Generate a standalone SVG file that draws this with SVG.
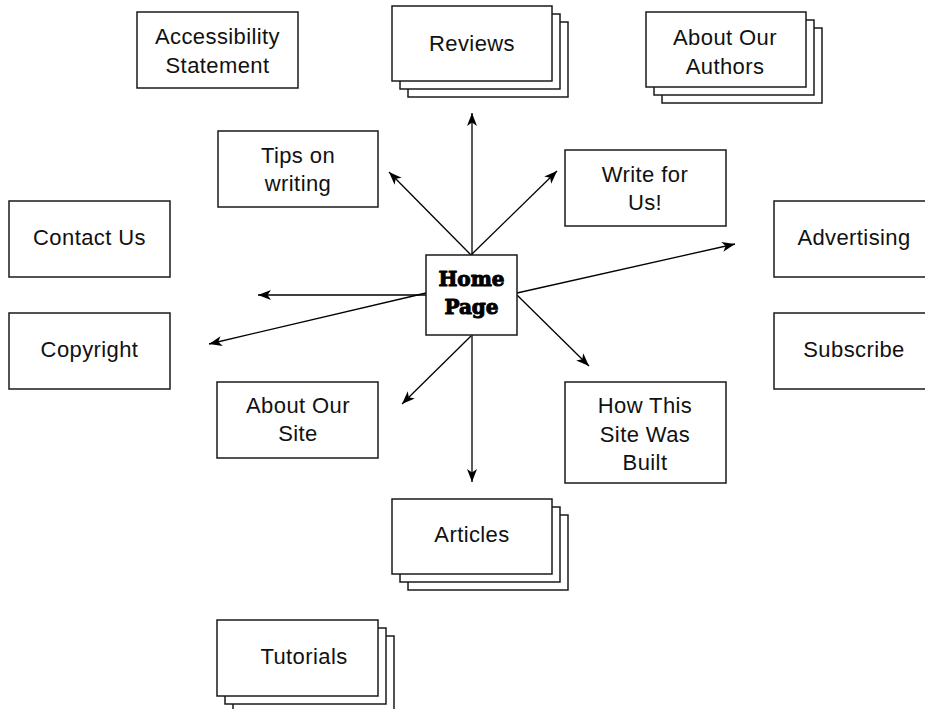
<svg xmlns="http://www.w3.org/2000/svg" width="925" height="709" viewBox="0 0 925 709">
  <style>
    .box { fill: #ffffff; stroke: #1a1a1a; stroke-width: 1.5; }
    .lbl { font-family: "Liberation Sans", Arial, sans-serif; font-size: 22px; letter-spacing: 0.4px; fill: #111111; text-anchor: middle; }
    .home { font-family: "DejaVu Serif", "Liberation Serif", serif; font-size: 20px; font-weight: bold; fill: #000000; stroke: #000000; stroke-width: 1; stroke-linejoin: round; text-anchor: middle; }
    .link { stroke: #000000; stroke-width: 1.3; fill: none; marker-end: url(#arrow); }
  </style>
  <defs>
    <marker id="arrow" markerUnits="userSpaceOnUse" markerWidth="14" markerHeight="11" refX="13" refY="5.5" orient="auto">
      <path d="M0,0.5 L13,5.5 L0,10.5 L3.5,5.5 Z" fill="#000000"/>
    </marker>
  </defs>
  <rect width="925" height="709" fill="#ffffff"/>

  <!-- connectors from the home page -->
  <g id="connectors">
    <line class="link" x1="472" y1="255" x2="472" y2="113"/>
    <line class="link" x1="471" y1="255" x2="389" y2="172"/>
    <line class="link" x1="471" y1="255" x2="557" y2="171"/>
    <line class="link" x1="426" y1="295" x2="258" y2="295"/>
    <line class="link" x1="426" y1="293" x2="209" y2="344"/>
    <line class="link" x1="517" y1="293" x2="735" y2="244"/>
    <line class="link" x1="517" y1="295" x2="589" y2="366"/>
    <line class="link" x1="471" y1="336" x2="402" y2="404"/>
    <line class="link" x1="472" y1="335" x2="472" y2="482"/>
  </g>

  <g id="home">
    <rect class="box" x="426" y="255" width="91" height="80"/>
    <text class="home" x="471.5" y="286">Home</text>
    <text class="home" x="471.5" y="314">Page</text>
  </g>

  <g id="accessibility">
    <rect class="box" x="137" y="12" width="161" height="76"/>
    <text class="lbl" x="217.5" y="44">Accessibility</text>
    <text class="lbl" x="217.5" y="73">Statement</text>
  </g>

  <g id="reviews">
    <rect class="box" x="408" y="22" width="160" height="75"/>
    <rect class="box" x="400" y="14" width="160" height="75"/>
    <rect class="box" x="392" y="6" width="160" height="75"/>
    <text class="lbl" x="472" y="51">Reviews</text>
  </g>

  <g id="authors">
    <rect class="box" x="662" y="28" width="160" height="75"/>
    <rect class="box" x="654" y="20" width="160" height="75"/>
    <rect class="box" x="646" y="12" width="160" height="75"/>
    <text class="lbl" x="725" y="44.5">About Our</text>
    <text class="lbl" x="725" y="73.5">Authors</text>
  </g>

  <g id="tips">
    <rect class="box" x="218" y="131" width="160" height="76"/>
    <text class="lbl" x="298" y="163">Tips on</text>
    <text class="lbl" x="298" y="191">writing</text>
  </g>

  <g id="write">
    <rect class="box" x="565" y="150" width="161" height="76"/>
    <text class="lbl" x="645" y="182">Write for</text>
    <text class="lbl" x="645" y="210">Us!</text>
  </g>

  <g id="contact">
    <rect class="box" x="9" y="201" width="161" height="76"/>
    <text class="lbl" x="89.5" y="245">Contact Us</text>
  </g>

  <g id="advertising">
    <rect class="box" x="774" y="201" width="161" height="76"/>
    <text class="lbl" x="854" y="245">Advertising</text>
  </g>

  <g id="copyright">
    <rect class="box" x="9" y="313" width="161" height="76"/>
    <text class="lbl" x="89.5" y="357">Copyright</text>
  </g>

  <g id="subscribe">
    <rect class="box" x="774" y="313" width="161" height="76"/>
    <text class="lbl" x="854" y="357">Subscribe</text>
  </g>

  <g id="about-site">
    <rect class="box" x="217" y="382" width="161" height="76"/>
    <text class="lbl" x="298" y="413">About Our</text>
    <text class="lbl" x="298" y="441">Site</text>
  </g>

  <g id="how-built">
    <rect class="box" x="565" y="382" width="161" height="101"/>
    <text class="lbl" x="645" y="413">How This</text>
    <text class="lbl" x="645" y="442">Site Was</text>
    <text class="lbl" x="645" y="470">Built</text>
  </g>

  <g id="articles">
    <rect class="box" x="408" y="515" width="160" height="75"/>
    <rect class="box" x="400" y="507" width="160" height="75"/>
    <rect class="box" x="392" y="499" width="160" height="75"/>
    <text class="lbl" x="472" y="542">Articles</text>
  </g>

  <g id="tutorials">
    <rect class="box" x="233" y="636" width="161" height="76"/>
    <rect class="box" x="225" y="628" width="161" height="76"/>
    <rect class="box" x="217" y="620" width="161" height="76"/>
    <text class="lbl" x="304" y="664">Tutorials</text>
  </g>
</svg>
